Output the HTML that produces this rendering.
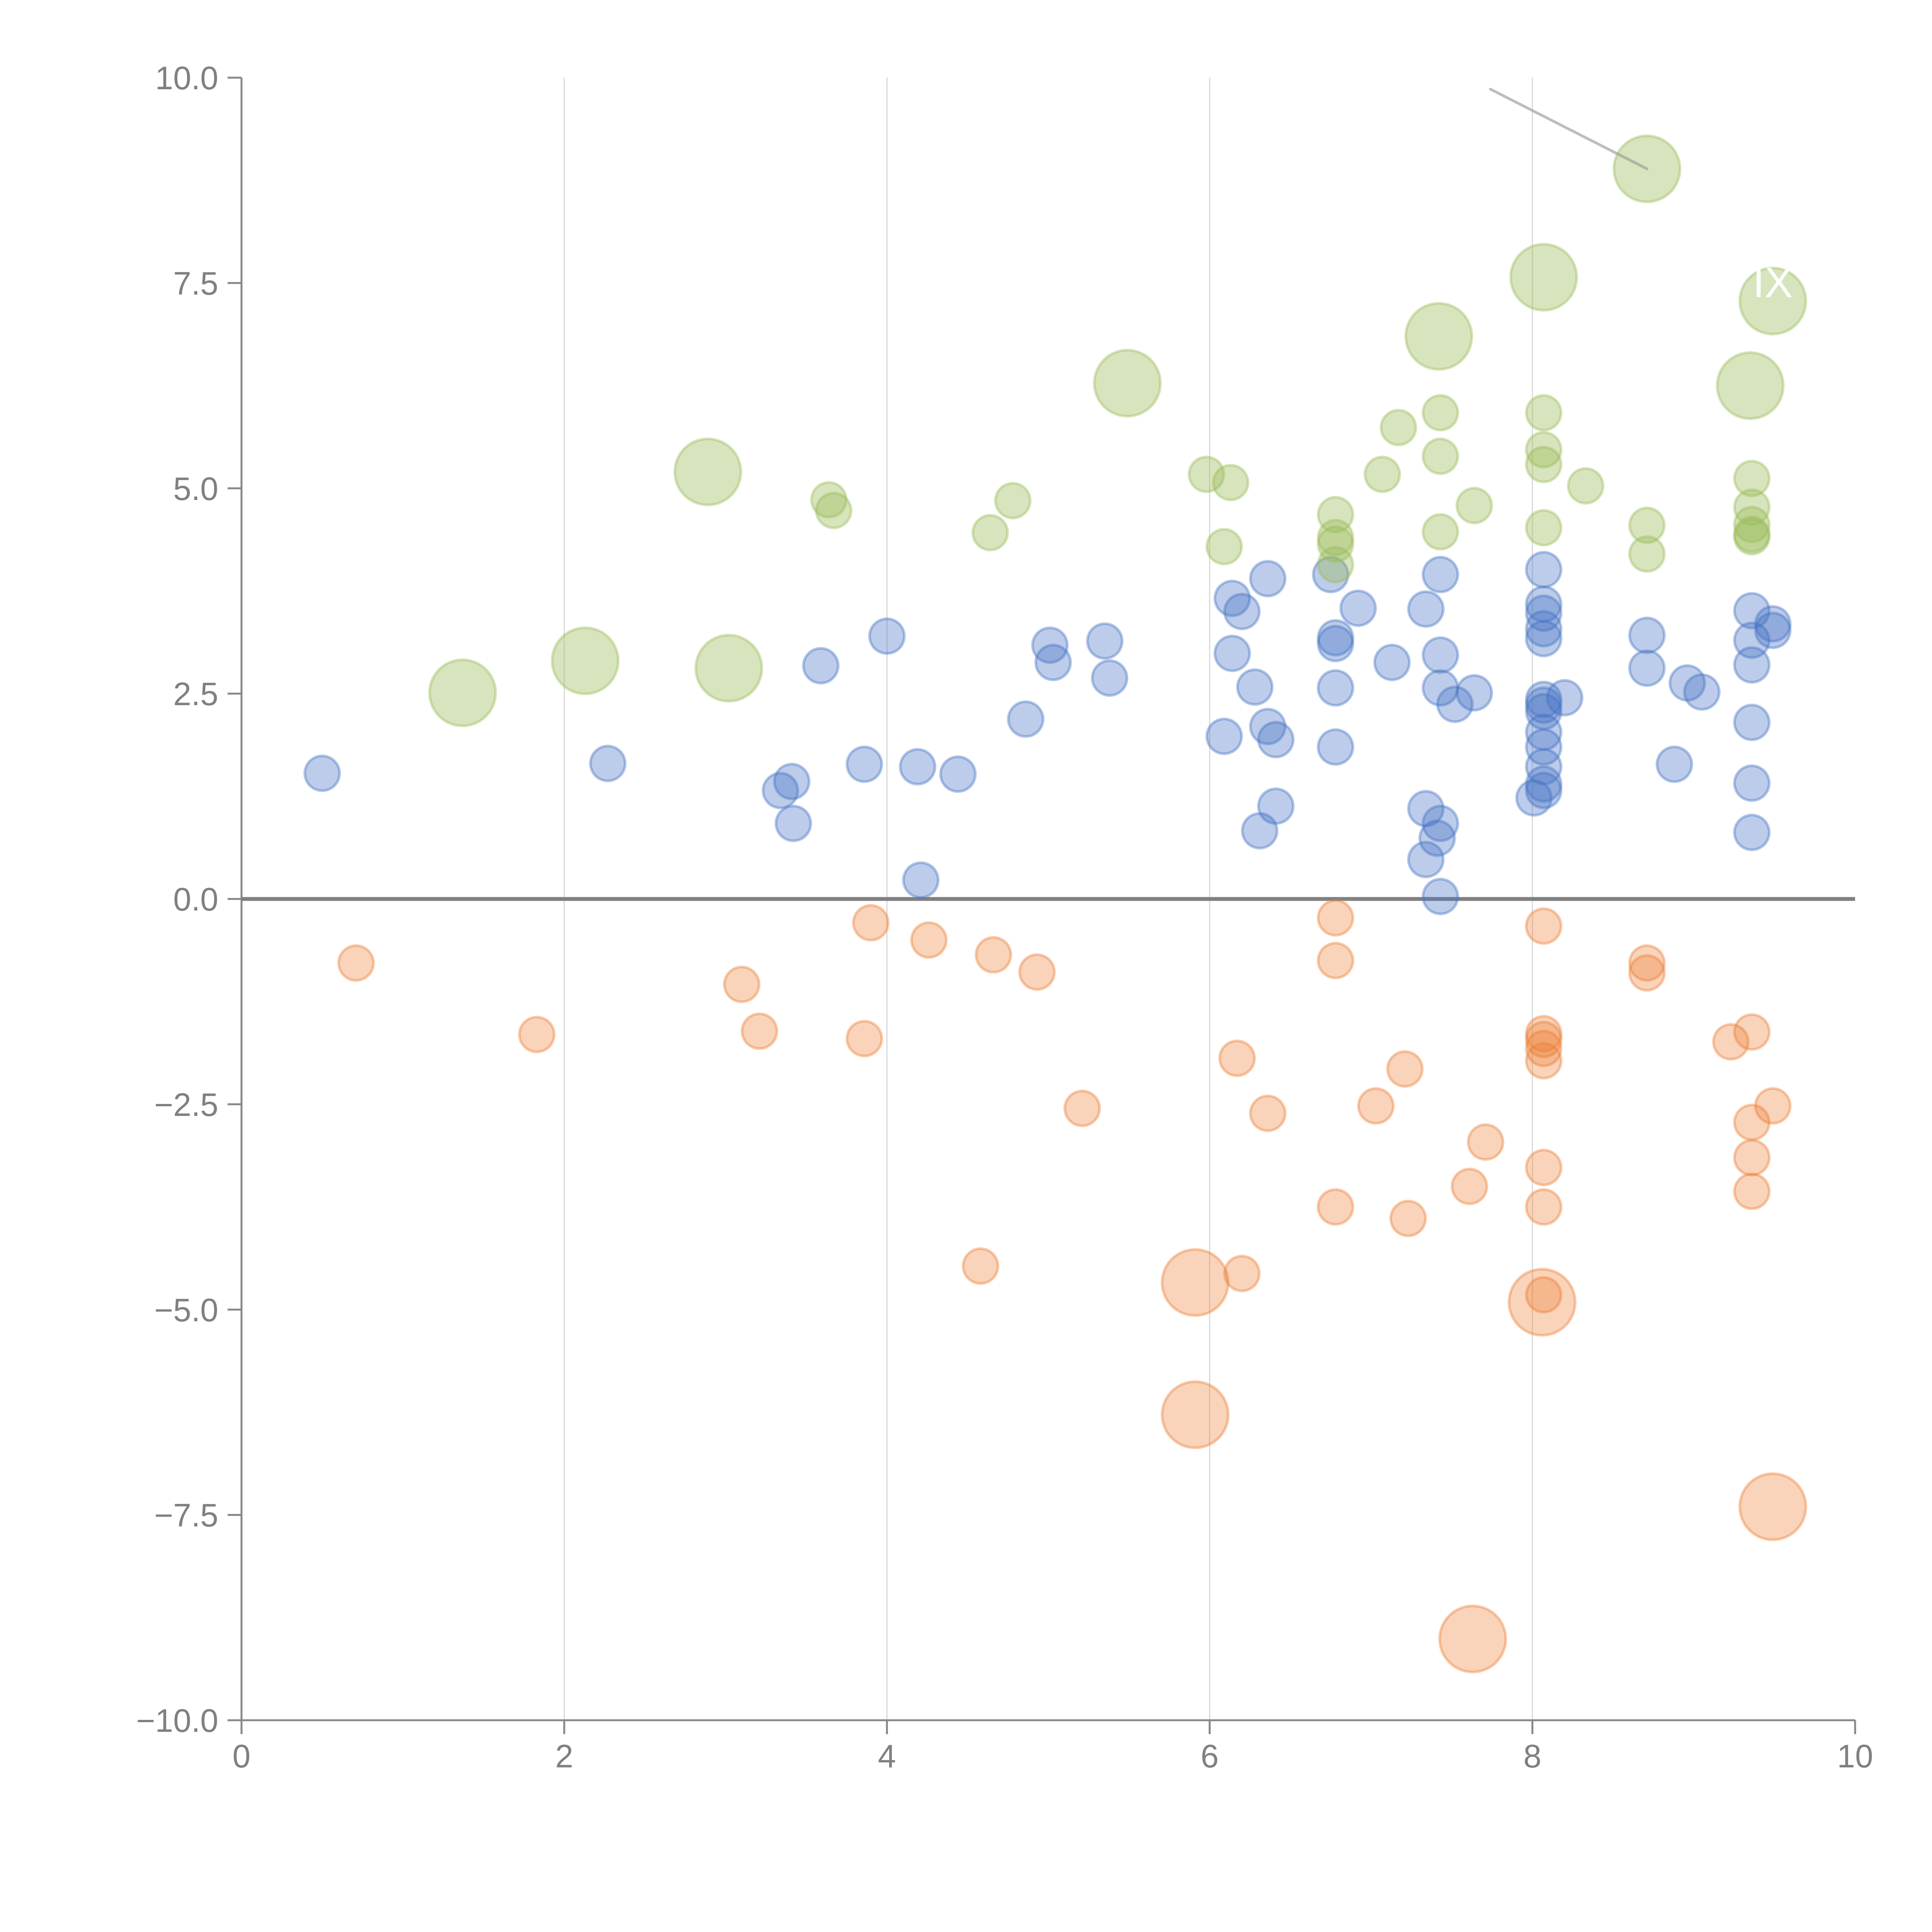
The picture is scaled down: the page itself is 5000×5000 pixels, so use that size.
<!DOCTYPE html>
<html><head><meta charset="utf-8"><title>Bubble chart</title>
<style>html,body{margin:0;padding:0;background:#fff}svg{display:block}</style></head>
<body>
<svg id="chart" width="5000" height="5000" viewBox="0 0 5000 5000" xmlns="http://www.w3.org/2000/svg" font-family="'Liberation Sans', sans-serif">
<g id="grid"></g>
<g id="axes"></g>
<g id="marks"></g>
</svg>
<script>
const xTicks = [0, 2, 4, 6, 8, 10];
const yTicks = [-10, -7.5, -5, -2.5, 0, 2.5, 5, 7.5, 10];
const yTickLabels = ["\u221210.0","\u22127.5","\u22125.0","\u22122.5","0.0","2.5","5.0","7.5","10.0"];

const blueX = [0.5,2.27,3.59,4.0,3.86,3.41,3.34,3.42,4.19,4.44,4.21,4.86,5.01,5.03,5.35,5.38,6.09,6.14,6.14,6.2,6.36,6.28,6.36,6.41,6.41,6.31,6.75,6.78,6.78,6.78,6.78,6.92,7.13,7.34,7.43,7.43,7.43,7.52,7.64,7.34,7.43,7.41,7.34,7.43,8.07,8.07,8.07,8.07,8.07,8.07,8.07,8.07,8.2,8.07,8.07,8.07,8.07,8.07,8.01,8.71,8.71,8.88,8.96,9.05,9.36,9.36,9.36,9.36,9.36,9.36,9.49,9.49];
const blueY = [1.53,1.65,2.84,3.2,1.64,1.43,1.32,0.92,1.61,1.52,0.23,2.19,3.09,2.88,3.14,2.69,1.98,2.99,3.66,3.5,3.9,2.58,2.1,1.94,1.13,0.83,3.95,3.18,3.11,2.57,1.85,3.54,2.88,3.53,3.95,2.97,2.57,2.37,2.51,1.1,0.92,0.74,0.48,0.03,4.01,3.59,3.48,3.29,3.17,2.43,2.36,2.28,2.45,2.03,1.85,1.61,1.4,1.32,1.23,3.21,2.81,1.64,2.63,2.52,3.51,3.15,2.85,2.15,1.41,0.81,3.35,3.27];

const greenX = [3.64,3.67,4.64,4.78,5.98,6.13,6.09,6.78,6.78,6.78,6.78,7.07,7.17,7.43,7.43,7.43,7.64,8.07,8.07,8.07,8.07,8.33,8.71,8.71,9.36,9.36,9.36,9.36,9.36];
const greenY = [4.86,4.73,4.46,4.85,5.17,5.07,4.29,4.68,4.4,4.32,4.07,5.17,5.74,5.92,5.39,4.47,4.79,5.92,5.47,5.29,4.52,5.03,4.55,4.2,5.12,4.77,4.56,4.44,4.41];
const greenBigX = [1.37,2.13,2.89,3.02,5.49,7.42,8.07,8.71,9.49,9.35];
const greenBigY = [2.51,2.9,5.2,2.81,6.28,6.85,7.57,8.89,7.28,6.25];

const orangeX = [0.71,1.83,3.1,3.21,3.86,3.9,4.26,4.66,4.93,5.21,4.58,6.17,6.36,6.2,6.78,6.78,6.78,7.03,7.21,7.23,7.61,7.71,8.07,8.07,8.07,8.07,8.07,8.07,8.07,8.07,8.71,8.71,9.23,9.36,9.36,9.36,9.36,9.49];
const orangeY = [-0.78,-1.65,-1.04,-1.61,-1.7,-0.29,-0.5,-0.68,-0.89,-2.55,-4.47,-1.94,-2.61,-4.56,-0.23,-0.75,-3.75,-2.52,-2.07,-3.89,-3.5,-2.96,-0.33,-1.64,-1.71,-1.82,-1.97,-3.27,-3.75,-4.82,-0.78,-0.9,-1.74,-1.62,-2.72,-3.15,-3.56,-2.52];
const orangeBigX = [5.91,5.91,8.06,9.49,7.63];
const orangeBigY = [-4.67,-6.28,-4.91,-7.4,-9.01];

const smallSize = 1;
const bigSize = 3.4;
const calloutFrom = [8.71, 8.89];
const calloutTo = [7.74, 9.86];

const NS = "http://www.w3.org/2000/svg";
const X0 = 625, X1 = 4801, Y0 = 4452, Y1 = 201;
function sx(v){ return X0 + (v - 0) / 10 * (X1 - X0); }
function sy(v){ return Y0 - (v + 10) / 20 * (Y0 - Y1); }
function rad(s){ return 48 * Math.sqrt(s); }
function mk(tag, attrs, parent){ const e = document.createElementNS(NS, tag); for (const k in attrs) e.setAttribute(k, attrs[k]); parent.appendChild(e); return e; }

const grid = document.getElementById('grid');
const axes = document.getElementById('axes');
const marks = document.getElementById('marks');

xTicks.forEach((t, i) => {
  if (t > 0 && t < 10) {
    const g = mk('line', {x1: sx(t), x2: sx(t), y1: Y1, y2: Y0, stroke: '#d9d9d9', 'stroke-width': 3}, grid);
    
    
  }
  const tk = mk('line', {x1: sx(t), x2: sx(t), y1: Y0, y2: Y0 + 36, stroke: '#888', 'stroke-width': 5}, axes);
  
  
  const lb = mk('text', {x: sx(t), y: Y0 + 122, 'text-anchor': 'middle', 'font-size': 84, fill: '#808080'}, axes);
  lb.textContent = String(t);
  
  
});
yTicks.forEach((t, i) => {
  const tk = mk('line', {x1: X0 - 36, x2: X0, y1: sy(t), y2: sy(t), stroke: '#888', 'stroke-width': 5}, axes);
  
  
  const lb = mk('text', {x: X0 - 60, y: sy(t) + 30, 'text-anchor': 'end', 'font-size': 84, fill: '#808080'}, axes);
  lb.textContent = yTickLabels[i];
  
  
});
const ya = mk('line', {x1: X0, x2: X0, y1: Y1, y2: Y0, stroke: '#888', 'stroke-width': 5}, axes);


const xa = mk('line', {x1: X0 - 36, x2: X1, y1: Y0, y2: Y0, stroke: '#888', 'stroke-width': 5}, axes);


const zl = mk('line', {x1: X0, x2: X1, y1: sy(0), y2: sy(0), stroke: '#808080', 'stroke-width': 10}, axes);



function drawSeries(xs, ys, size, color, op, name){
  xs.forEach((x, i) => {
    const c = mk('circle', {cx: sx(x), cy: sy(ys[i]), r: rad(size) - 3, fill: color, 'fill-opacity': op, stroke: color, 'stroke-opacity': 0.4, 'stroke-width': 7}, marks);
    
    
  });
}
drawSeries(blueX, blueY, smallSize, '#4472c4', 0.36, 'blue-bubble');
drawSeries(greenX, greenY, smallSize, '#9bbb59', 0.4, 'green-bubble');
drawSeries(greenBigX, greenBigY, bigSize, '#9bbb59', 0.4, 'green-large-bubble');
drawSeries(orangeX, orangeY, smallSize, '#ed7d31', 0.33, 'orange-bubble');
drawSeries(orangeBigX, orangeBigY, bigSize, '#ed7d31', 0.33, 'orange-large-bubble');

const cl = mk('line', {x1: sx(calloutFrom[0]), y1: sy(calloutFrom[1]), x2: sx(calloutTo[0]), y2: sy(calloutTo[1]), stroke: '#999', 'stroke-opacity': 0.65, 'stroke-width': 7, 'stroke-linecap': 'round'}, marks);


const lab = mk('text', {x: sx(9.49), y: sy(7.28) - 10, 'text-anchor': 'middle', 'font-size': 110, fill: '#fff'}, marks);
lab.textContent = 'IX';


</script>
</body></html>
